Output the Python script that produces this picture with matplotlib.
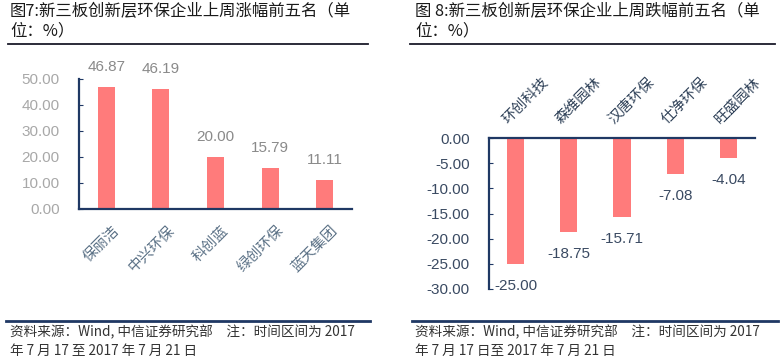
import matplotlib
matplotlib.use("Agg")
import matplotlib.pyplot as plt
from matplotlib.lines import Line2D

plt.rcParams['font.family'] = ['Noto Sans CJK SC', 'DejaVu Sans']

# ---- data ----
left_title = "图7:新三板创新层环保企业上周涨幅前五名（单\n位：%）"
left_cats = ["保丽洁", "中兴环保", "科创蓝", "绿创环保", "蓝天集团"]
left_vals = [46.87, 46.19, 20.00, 15.79, 11.11]
left_yticks = [0, 10, 20, 30, 40, 50]

right_title = "图 8:新三板创新层环保企业上周跌幅前五名（单\n位：%）"
right_cats = ["环创科技", "森维园林", "汉唐环保", "仕净环保", "旺盛园林"]
right_vals = [-25.00, -18.75, -15.71, -7.08, -4.04]
right_yticks = [0, -5, -10, -15, -20, -25, -30]

left_note = "资料来源：Wind, 中信证券研究部　注：时间区间为 2017\n年 7 月 17 至 2017 年 7 月 21 日"
right_note = "资料来源：Wind, 中信证券研究部　注：时间区间为 2017\n年 7 月 17 日至 2017 年 7 月 21 日"

BAR = '#FF7B7B'
NAVY = '#1F3864'
NUMFONT = ['Liberation Sans', 'DejaVu Sans']

W, H = 780, 364
fig = plt.figure(figsize=(7.8, 3.64), dpi=100)

def fx(px):
    return px / W

def fy(py):
    return 1 - py / H

# titles
fig.text(fx(10), fy(3), left_title, ha='left', va='top', fontsize=11.8,
         color='#1a1a1a', linespacing=1.2)
fig.text(fx(415), fy(3), right_title, ha='left', va='top', fontsize=11.8,
         color='#1a1a1a', linespacing=1.2)
fig.add_artist(Line2D([fx(8), fx(368)], [fy(44), fy(44)], color='#1a1a2a', lw=1.3))
fig.add_artist(Line2D([fx(410), fx(775)], [fy(44), fy(44)], color='#1a1a2a', lw=1.3))

# footers
fig.add_artist(Line2D([fx(6), fx(370)], [fy(321), fy(321)], color=NAVY, lw=2))
fig.add_artist(Line2D([fx(412), fx(778)], [fy(321), fy(321)], color=NAVY, lw=2))
fig.text(fx(10), fy(325), left_note, ha='left', va='top', fontsize=9.8,
         color='#333333', linespacing=1.4)
fig.text(fx(415), fy(325), right_note, ha='left', va='top', fontsize=9.8,
         color='#333333', linespacing=1.4)

# ---- left chart ----
axL = fig.add_axes([fx(79), fy(209), fx(352) - fx(79), (209 - 79) / H])
xs = list(range(len(left_cats)))
axL.bar(xs, left_vals, width=0.31, color=BAR, zorder=2)
axL.set_xlim(-0.5, len(left_cats) - 0.5)
axL.set_ylim(0, 50)
for s in ['top', 'right']:
    axL.spines[s].set_visible(False)
for s in ['left', 'bottom']:
    axL.spines[s].set_color(NAVY)
    axL.spines[s].set_linewidth(1.6)
axL.set_yticks(left_yticks)
axL.set_yticklabels([f"{v:.2f}" for v in left_yticks], fontfamily=NUMFONT,
                    fontsize=11, color='#A8A8A8')
axL.tick_params(axis='y', direction='in', length=3, color=NAVY, pad=14)
axL.set_xticks([])
for i, v in enumerate(left_vals):
    axL.annotate(f"{v:.2f}", xy=(i, v), xytext=(0, 20), textcoords='offset pixels',
                 ha='center', va='center', fontsize=11, color='#8A8A8A',
                 fontfamily=NUMFONT, annotation_clip=False)
for i, c in enumerate(left_cats):
    axL.annotate(c, xy=(i, 0), xytext=(6, -14), textcoords='offset pixels',
                 ha='right', va='top', rotation=45, rotation_mode='anchor',
                 fontsize=10.5, color='#5B7186', annotation_clip=False)

# ---- right chart ----
axR = fig.add_axes([fx(489), fy(289), fx(755) - fx(489), (289 - 138) / H])
xs = list(range(len(right_cats)))
axR.bar(xs, right_vals, width=0.32, color=BAR, zorder=2)
axR.set_xlim(-0.5, len(right_cats) - 0.5)
axR.set_ylim(-30, 0)
for s in ['bottom', 'right']:
    axR.spines[s].set_visible(False)
for s in ['left', 'top']:
    axR.spines[s].set_color(NAVY)
    axR.spines[s].set_linewidth(1.6)
axR.set_yticks(right_yticks)
axR.set_yticklabels([f"{v:.2f}" for v in right_yticks], fontfamily=NUMFONT,
                    fontsize=11, color='#3A4A62')
axR.tick_params(axis='y', direction='in', length=3, color=NAVY, pad=14)
axR.set_xticks([])
for i, v in enumerate(right_vals):
    axR.annotate(f"{v:.2f}", xy=(i, v), xytext=(0, -22), textcoords='offset pixels',
                 ha='center', va='center', fontsize=11, color='#3A4A62',
                 fontfamily=NUMFONT, annotation_clip=False)
for i, c in enumerate(right_cats):
    axR.annotate(c, xy=(i, 0), xytext=(-6, 12), textcoords='offset pixels',
                 ha='left', va='bottom', rotation=45, rotation_mode='anchor',
                 fontsize=10.5, color='#2F4158', annotation_clip=False)

fig.savefig("out.png", dpi=100)
